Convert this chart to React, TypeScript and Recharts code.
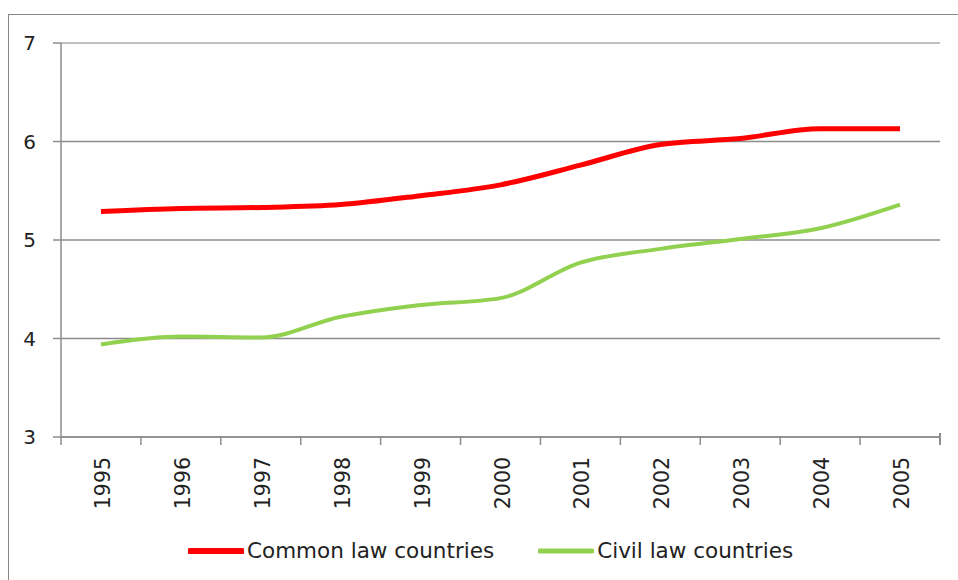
import { LineChart, Line, XAxis, YAxis, CartesianGrid, Legend, ReferenceLine } from 'recharts';

const years = ['1995', '1996', '1997', '1998', '1999', '2000', '2001', '2002', '2003', '2004', '2005'];
const commonLaw = [5.29, 5.32, 5.33, 5.36, 5.45, 5.56, 5.76, 5.97, 6.03, 6.13, 6.13];
const civilLaw = [3.94, 4.02, 4.01, 4.22, 4.34, 4.41, 4.77, 4.91, 5.01, 5.12, 5.36];
const yTicks = [3, 4, 5, 6, 7];

const W = 958;
const H = 580;
const LEFT = 61;
const RIGHT = 18;
const FONT = '"DejaVu Sans", Verdana, sans-serif';
const AXIS = '#8c8c8c';

const data = years.map((year, i) => ({ year, common: commonLaw[i], civil: civilLaw[i] }));
const halfBand = (W - LEFT - RIGHT) / years.length / 2;

function YearTick(props: any) {
  const { x, y, payload, index } = props;
  return (
    <g>
      <line x1={x - halfBand} y1={y} x2={x - halfBand} y2={y + 8} stroke={AXIS} strokeWidth={1.5} />
      {index === years.length - 1 && (
        <line x1={x + halfBand} y1={y - 4} x2={x + halfBand} y2={y + 8} stroke={AXIS} strokeWidth={2} />
      )}
      <text
        transform={`translate(${x + 2},${y + 20}) rotate(-90)`}
        textAnchor="end"
        dominantBaseline="central"
        fontFamily={FONT}
        fontSize={20.5}
        fill="#222"
      >
        {payload.value}
      </text>
    </g>
  );
}

function LegendBox() {
  const items = [
    { label: 'Common law countries', color: '#ff0000', width: 5 },
    { label: 'Civil law countries', color: '#92d050', width: 4 },
  ];
  return (
    <div
      style={{
        display: 'flex',
        paddingLeft: 188,
        paddingTop: 12,
        alignItems: 'center',
        fontFamily: FONT,
        fontSize: 21.5,
        color: '#222',
      }}
    >
      {items.map((it, i) => (
        <div key={it.label} style={{ display: 'flex', alignItems: 'center', marginRight: i === 0 ? 44 : 0 }}>
          <svg width={56} height={10} style={{ marginRight: 3 }}>
            <line x1={2} y1={5} x2={54} y2={5} stroke={it.color} strokeWidth={it.width + 1} strokeLinecap="round" />
          </svg>
          <span>{it.label}</span>
        </div>
      ))}
    </div>
  );
}

export default function App() {
  return (
    <div style={{ position: 'absolute', left: 0, top: 0, width: W, height: H, background: '#fff', overflow: 'hidden' }}>
      <div
        style={{
          position: 'absolute',
          left: 8,
          top: 14,
          width: W,
          height: H,
          borderLeft: '1.5px solid #888',
          borderTop: '1.5px solid #888',
        }}
      />
      <div style={{ position: 'absolute', left: 0, top: 0 }}>
        <LineChart width={W} height={H} data={data} margin={{ top: 43, right: RIGHT, bottom: 4, left: 0 }}>
          <CartesianGrid vertical={false} stroke={AXIS} strokeWidth={1.5} />
          <ReferenceLine y={7} stroke="#c8c8c8" strokeWidth={1.5} />
          <XAxis
            dataKey="year"
            height={89}
            interval={0}
            padding={{ left: halfBand, right: halfBand }}
            tickSize={0}
            tickMargin={0}
            tickLine={false}
            axisLine={{ stroke: AXIS, strokeWidth: 1.5 }}
            tick={<YearTick />}
          />
          <YAxis
            domain={[3, 7]}
            ticks={yTicks}
            width={LEFT}
            tickSize={8}
            tickMargin={17}
            tickLine={{ stroke: AXIS, strokeWidth: 1.5 }}
            axisLine={{ stroke: AXIS, strokeWidth: 1.5 }}
            tick={{ fontFamily: FONT, fontSize: 20, fill: '#222' }}
          />
          <YAxis
            yAxisId="frame"
            orientation="right"
            width={0}
            tick={false}
            tickLine={false}
            axisLine={{ stroke: AXIS, strokeWidth: 2 }}
          />
          <Legend verticalAlign="bottom" height={50} content={<LegendBox />} />
          <Line
            type="monotone"
            dataKey="common"
            stroke="#ff0000"
            strokeWidth={5}
            dot={false}
            isAnimationActive={false}
          />
          <Line
            type="monotone"
            dataKey="civil"
            stroke="#92d050"
            strokeWidth={4}
            dot={false}
            isAnimationActive={false}
          />
        </LineChart>
      </div>
    </div>
  );
}
